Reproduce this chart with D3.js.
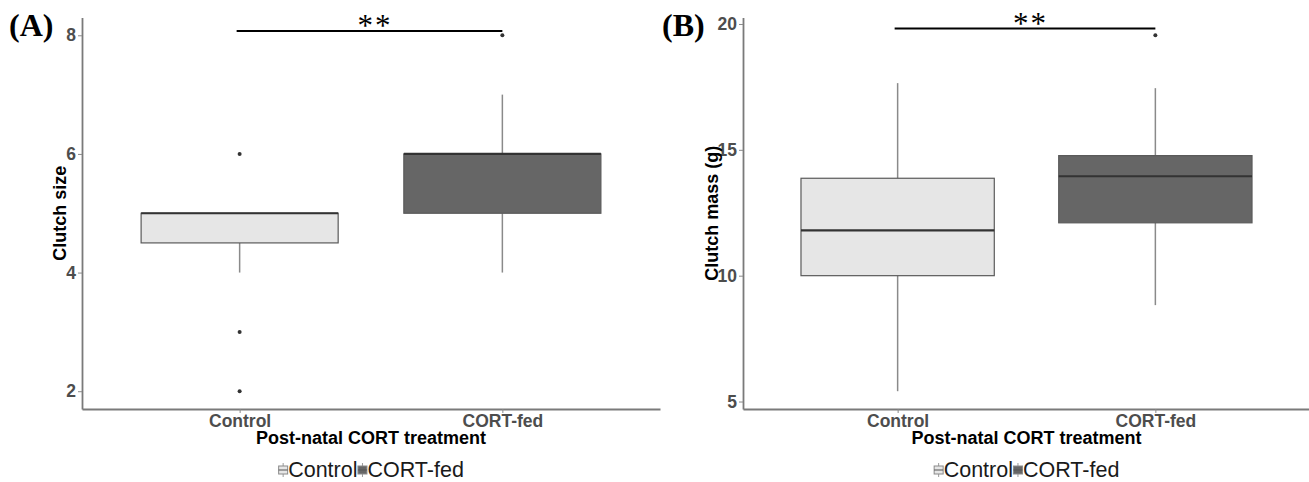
<!DOCTYPE html>
<html>
<head>
<meta charset="utf-8">
<script src="https://cdnjs.cloudflare.com/ajax/libs/d3/7.8.5/d3.min.js"></script>
<style>
  body { margin: 0; background: #fff; }
  text { font-family: "Liberation Sans", Arial, sans-serif; }
</style>
</head>
<body>
<svg id="chart"></svg>
<script>
// groups on the x axis
const groups = ["Control", "CORT-fed"];

// (A) clutch size box stats, one value per group
const sizeLow = [4, 4];
const sizeQ1 = [4.5, 5];
const sizeMedian = [5, 6];
const sizeQ3 = [5, 6];
const sizeHigh = [5, 7];
const sizeOutliers = [[6, 3, 2], [8]];
const sizeTicks = [2, 4, 6, 8];

// (B) clutch mass box stats
const massLow = [5.41, 8.83];
const massQ1 = [10.0, 12.1];
const massMedian = [11.8, 13.95];
const massQ3 = [13.87, 14.77];
const massHigh = [17.65, 17.45];
const massOutliers = [[], [19.55]];
const massTicks = [5, 10, 15, 20];

const fills = ["#e6e6e6", "#666666"];

const svg = d3.select("#chart").attr("width", 1309).attr("height", 482);

function drawPanel(p) {
  const g = svg.append("g");

  // y extent from the data, padded 5% like ggplot
  const all = p.low.concat(p.high, p.outliers.flat());
  const lo = d3.min(all), hi = d3.max(all);
  const pad = (hi - lo) * 0.05;
  const y = d3.scaleLinear().domain([lo - pad, hi + pad]).range([409, 17.5]);

  const x = d3.scalePoint().domain(groups).range([p.left, p.right]).padding(0.6);
  const boxW = x.step() * 0.75;

  // axes
  const yAxis = g.append("g")
    .attr("transform", `translate(${p.left},0)`)
    .call(
      d3.axisLeft(y).tickValues(p.ticks).tickFormat(d3.format("d"))
        .tickSize(4).tickPadding(2).tickSizeOuter(0)
    );
  const xAxis = g.append("g")
    .attr("transform", "translate(0,409)")
    .call(d3.axisBottom(x).tickSize(4).tickPadding(2).tickSizeOuter(0));

  [yAxis, xAxis].forEach((a) => {
    a.select(".domain").attr("stroke", "#7a7a7a").attr("stroke-width", 1.8);
    a.selectAll(".tick line").attr("stroke", "#8a8a8a").attr("stroke-width", 1);
    a.selectAll(".tick text")
      .attr("fill", "#4d4d4d")
      .attr("font-size", 17.5)
      .attr("font-weight", "bold")
      .attr("font-family", "Liberation Sans, Arial, sans-serif");
  });

  // axis titles
  g.append("text")
    .attr("transform", `translate(${p.ytitleX},${(409 + 17.5) / 2}) rotate(-90)`)
    .attr("text-anchor", "middle")
    .attr("font-size", 18)
    .attr("font-weight", "bold")
    .attr("fill", "#000")
    .text(p.ytitle);

  const midX = (p.left + p.right) / 2;
  g.append("text")
    .attr("x", midX)
    .attr("y", 444)
    .attr("text-anchor", "middle")
    .attr("font-size", 18)
    .attr("font-weight", "bold")
    .attr("fill", "#000")
    .text("Post-natal CORT treatment");

  groups.forEach((grp, i) => {
    const cx = x(grp);
    // whiskers
    g.append("line")
      .attr("x1", cx).attr("x2", cx)
      .attr("y1", y(p.q3[i])).attr("y2", y(p.high[i]))
      .attr("stroke", "#8a8a8a").attr("stroke-width", 1.5);
    g.append("line")
      .attr("x1", cx).attr("x2", cx)
      .attr("y1", y(p.q1[i])).attr("y2", y(p.low[i]))
      .attr("stroke", "#8a8a8a").attr("stroke-width", 1.5);

    // box
    g.append("rect")
      .attr("x", cx - boxW / 2)
      .attr("y", y(p.q3[i]))
      .attr("width", boxW)
      .attr("height", y(p.q1[i]) - y(p.q3[i]))
      .attr("fill", fills[i])
      .attr("stroke", "#5a5a5a")
      .attr("stroke-width", 1.2);

    g.append("line")
      .attr("x1", cx - boxW / 2).attr("x2", cx + boxW / 2)
      .attr("y1", y(p.median[i])).attr("y2", y(p.median[i]))
      .attr("stroke", "#333").attr("stroke-width", 2.2);

    g.selectAll(null)
      .data(p.outliers[i])
      .enter()
      .append("circle")
      .attr("cx", cx)
      .attr("cy", (d) => y(d))
      .attr("r", 2)
      .attr("fill", "#333");
  });

  // significance bar
  g.append("line")
    .attr("x1", x(groups[0]) - 3).attr("x2", x(groups[1]))
    .attr("y1", p.barY).attr("y2", p.barY)
    .attr("stroke", "#000").attr("stroke-width", 2);
  g.append("text")
    .attr("x", (x(groups[0]) + x(groups[1])) / 2 + 4)
    .attr("y", p.barY + 5)
    .attr("text-anchor", "middle")
    .attr("font-size", 31)
    .attr("letter-spacing", 2)
    .attr("fill", "#000")
    .style("font-family", "'Liberation Serif', serif")
    .text("**");

  // panel letter
  g.append("text")
    .attr("x", p.labelX)
    .attr("y", 36)
    .attr("font-size", 32)
    .attr("font-weight", "bold")
    .style("font-family", "'Liberation Serif', serif")
    .text(p.label);

  // legend below
  const leg = g.append("g");
  let cur = 0;
  groups.forEach((grp, i) => {
    const item = leg.append("g").attr("transform", `translate(${cur},0)`);
    item.append("line")
      .attr("x1", 5).attr("x2", 5).attr("y1", 463).attr("y2", 477)
      .attr("stroke", "#9a9a9a").attr("stroke-width", 1);
    item.append("rect")
      .attr("x", 0.5).attr("y", 466).attr("width", 9).attr("height", 8)
      .attr("fill", fills[i]).attr("stroke", "#8a8a8a").attr("stroke-width", 1);
    item.append("line")
      .attr("x1", 0.5).attr("x2", 9.5).attr("y1", 470).attr("y2", 470)
      .attr("stroke", "#555").attr("stroke-width", 1);
    const t = item.append("text")
      .attr("x", 10)
      .attr("y", 477)
      .attr("font-size", 21.5)
      .attr("fill", "#1a1a1a")
      .text(grp);
    cur += 10 + t.node().getComputedTextLength();
  });
  leg.attr("transform", `translate(${midX - cur / 2},0)`);
}

drawPanel({
  left: 82, right: 660, label: "(A)", labelX: 9, ytitle: "Clutch size", ytitleX: 66,
  barY: 31, ticks: sizeTicks,
  low: sizeLow, q1: sizeQ1, median: sizeMedian, q3: sizeQ3, high: sizeHigh, outliers: sizeOutliers
});

drawPanel({
  left: 743, right: 1310, label: "(B)", labelX: 662, ytitle: "Clutch mass (g)", ytitleX: 718,
  barY: 28.5, ticks: massTicks,
  low: massLow, q1: massQ1, median: massMedian, q3: massQ3, high: massHigh, outliers: massOutliers
});
</script>
</body>
</html>
